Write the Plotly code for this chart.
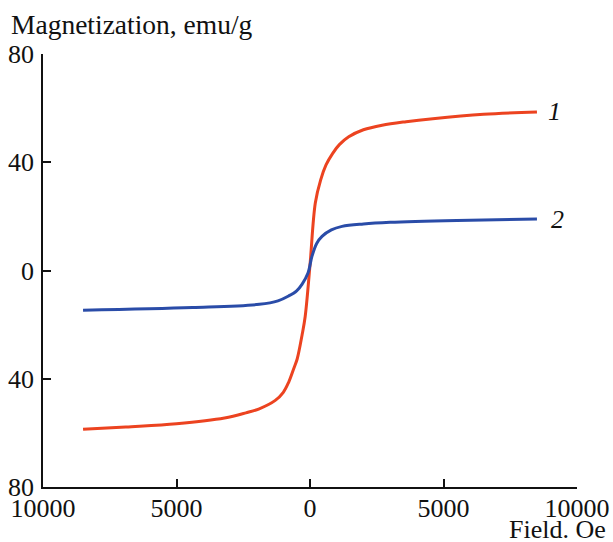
import plotly.graph_objects as go

# Curve 1 (red)
field_1 = [-8500, -6900, -5000, -3200, -2400, -1900, -1300, -1000, -800, -600, -480, -300, -180, 0,
           200, 400, 600, 850, 1100, 1450, 2000, 2700, 3600, 4600, 6500, 8500]
mag_1 = [-58.7, -57.8, -56.6, -54.5, -52.6, -51.1, -48.0, -45.0, -41.3, -36.0, -32.7, -24.0, -17.0, 2.0,
         25.0, 33.5, 39.0, 43.3, 46.5, 49.4, 52.0, 53.7, 55.0, 56.1, 57.7, 58.6]

# Curve 2 (blue)
field_2 = [-8500, -4400, -1900, -1200, -800, -500, -300, -75, 75, 250, 450, 800, 1200, 2000, 3000, 5500, 8500]
mag_2 = [-14.7, -13.7, -12.5, -11.2, -9.4, -7.5, -5.1, -0.9, 5.3, 10.0, 12.6, 15.0, 16.3, 17.2, 17.8, 18.5, 19.0]

x_ticks = [-10000, -5000, 0, 5000, 10000]
x_ticktext = ["10000", "5000", "0", "5000", "10000"]
y_ticks = [-80, -40, 0, 40, 80]
y_ticktext = ["80", "40", "0", "40", "80"]

FONT = "Liberation Serif"
RED = "#ec4320"
BLUE = "#2a4ca8"

fig = go.Figure()
fig.add_trace(go.Scatter(x=field_1, y=mag_1, mode="lines",
                         line=dict(color=RED, width=3, shape="spline", smoothing=1.0)))
fig.add_trace(go.Scatter(x=field_2, y=mag_2, mode="lines",
                         line=dict(color=BLUE, width=3, shape="spline", smoothing=1.0)))

axis_common = dict(showgrid=False, zeroline=False, showline=True, linecolor="#111", linewidth=1.5,
                   ticks="inside", ticklen=8, tickwidth=1.5, tickcolor="#111", automargin=False,
                   tickfont=dict(family=FONT, size=26, color="#111"))

fig.update_layout(
    width=613, height=542,
    margin=dict(l=43, r=36, t=54, b=55, autoexpand=False),
    paper_bgcolor="white", plot_bgcolor="white",
    showlegend=False,
    font=dict(family=FONT, size=26, color="#111"),
    xaxis=dict(range=[-10000, 10000], tickvals=x_ticks, ticktext=x_ticktext,
               ticklabelstandoff=-3, **axis_common),
    yaxis=dict(range=[-80, 80], tickvals=y_ticks, ticktext=y_ticktext,
               ticklabelstandoff=2, **axis_common),
    annotations=[
        dict(text="Magnetization, emu/g", xref="paper", yref="paper", x=-0.064, y=1.0,
             xanchor="left", yanchor="bottom", yshift=12, showarrow=False,
             font=dict(family=FONT, size=27.5, color="#111")),
        dict(text="Field. Oe", xref="paper", yref="paper", x=1.058, y=0,
             xanchor="right", yanchor="top", yshift=-26, showarrow=False),
        dict(text="<i>1</i>", x=8850, y=58.8, xref="x", yref="y",
             xanchor="left", yanchor="middle", showarrow=False),
        dict(text="<i>2</i>", x=8950, y=18.8, xref="x", yref="y",
             xanchor="left", yanchor="middle", showarrow=False),
    ],
)

fig.write_html("out.html", config={"displayModeBar": False},
               post_script="document.body.style.margin='0';")
